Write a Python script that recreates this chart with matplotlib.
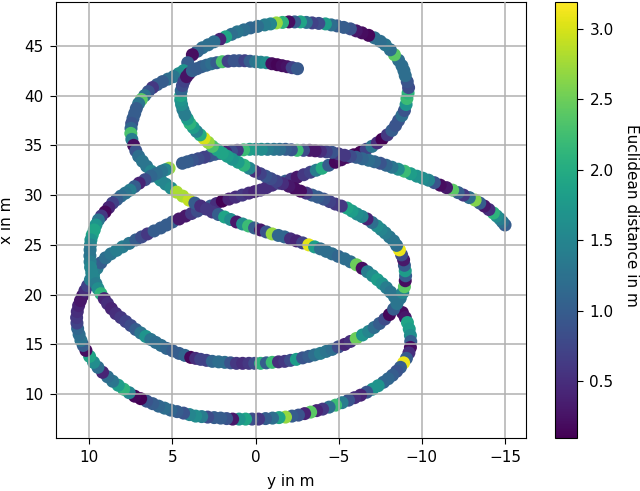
import matplotlib
matplotlib.use("Agg")
import matplotlib.pyplot as plt

plt.rcParams["font.size"] = 11

# closed figure-eight trace
loop_y = [-8.83,-9.0,-9.13,-9.24,-9.31,-9.33,-9.31,-9.22,-9.07,-8.9,
          -8.71,-8.48,-8.23,-7.97,-7.69,-7.37,-7.03,-6.68,-6.31,-5.95,
          -5.59,-5.2,-4.81,-4.42,-4.03,-3.67,-3.31,-2.95,-2.58,-2.19,
          -1.8,-1.41,-1.02,-.6,-.18,.21,.6,.99,1.38,1.74,
          2.1,2.49,2.88,3.24,3.6,3.97,4.33,4.72,5.1,5.47,
          5.83,6.19,6.55,6.91,7.27,7.6,7.93,8.26,8.59,8.9,
          9.2,9.48,9.74,9.98,10.2,10.36,10.5,10.61,10.7,10.74,
          10.76,10.72,10.64,10.53,10.4,10.26,10.1,9.93,9.74,9.53,
          9.3,9.02,8.7,8.36,8.0,7.6,7.2,6.85,6.5,6.1,
          5.7,5.35,5.0,4.6,4.2,3.85,3.5,3.1,2.7,2.35,
          2.0,1.6,1.2,.8,.4,.05,-.3,-.65,-1.0,-1.4,
          -1.8,-2.15,-2.5,-2.9,-3.3,-3.65,-4.0,-4.4,-4.8,-5.15,
          -5.5,-5.9,-6.3,-6.65,-7.0,-7.32,-7.6,-7.92,-8.2,-8.42,
          -8.6,-8.8,-8.95,-9.05,-9.1,-9.17,-9.2,-9.12,-9.0,-8.92,
          -8.8,-8.6,-8.35,-8.1,-7.8,-7.5,-7.15,-6.8,-6.4,-6.05,
          -5.7,-5.3,-4.9,-4.55,-4.2,-3.8,-3.4,-3.05,-2.7,-2.35,
          -2.0,-1.62,-1.25,-.9,-.55,-.12,.3,.7,1.1,1.45,
          1.8,2.15,2.5,2.85,3.2,3.5,3.8,4.08,4.33,4.62,
          4.93,5.27,5.6,5.92,6.2,6.45,6.67,6.87,7.03,7.17,
          7.27,7.37,7.45,7.49,7.5,7.44,7.33,7.2,7.03,6.8,
          6.55,6.28,6.0,5.7,5.4,5.08,4.75,4.38,4.0,3.65,
          3.3,2.95,2.6,2.23,1.86,1.5,1.14,.78,.42,.06,
          -.3,-.65,-1.0,-1.37,-1.74,-2.1,-2.46,-2.83,-3.2,-3.55,
          -3.9,-4.25,-4.6,-4.97,-5.35,-5.71,-6.07,-6.41,-6.73,-7.04,
          -7.33,-7.61,-7.87,-8.12,-8.35]
loop_x = [18.2,17.7,17.2,16.55,15.9,15.3,14.7,14.15,13.6,13.15,
          12.7,12.3,11.9,11.55,11.2,10.85,10.5,10.2,9.9,9.65,
          9.4,9.15,8.9,8.7,8.5,8.35,8.2,8.05,7.9,7.8,
          7.7,7.65,7.6,7.55,7.5,7.5,7.5,7.5,7.5,7.55,
          7.6,7.65,7.7,7.75,7.8,7.95,8.1,8.25,8.4,8.6,
          8.8,9.05,9.3,9.55,9.8,10.15,10.5,10.9,11.3,11.75,
          12.2,12.7,13.2,13.8,14.4,14.9,15.4,16.0,16.6,17.15,
          17.7,18.3,18.9,19.4,19.9,20.4,20.9,21.5,22.1,22.65,
          23.2,23.7,24.1,24.45,24.8,25.15,25.5,25.8,26.1,26.4,
          26.7,27.0,27.3,27.6,27.9,28.15,28.4,28.65,28.9,29.15,
          29.4,29.6,29.8,30.0,30.2,30.35,30.5,30.75,31.0,31.2,
          31.4,31.6,31.8,32.05,32.3,32.5,32.7,33.0,33.3,33.55,
          33.8,34.05,34.3,34.6,34.9,35.25,35.6,36.05,36.5,37.0,
          37.5,38.0,38.5,39.1,39.7,40.25,40.8,41.4,42.0,42.5,
          43.0,43.55,44.1,44.6,45.1,45.45,45.8,46.05,46.3,46.5,
          46.7,46.85,47.0,47.1,47.2,47.25,47.3,47.35,47.4,47.4,
          47.4,47.35,47.3,47.2,47.1,46.95,46.8,46.6,46.4,46.15,
          45.9,45.65,45.4,45.1,44.8,44.45,44.1,43.3,42.5,42.2,
          41.9,41.65,41.4,41.1,40.8,40.4,40.0,39.6,39.2,38.7,
          38.2,37.7,37.2,36.7,36.2,35.6,35.0,34.45,33.9,33.4,
          32.9,32.4,31.9,31.5,31.1,30.7,30.3,29.9,29.5,29.2,
          28.9,28.6,28.3,28.05,27.8,27.55,27.3,27.1,26.9,26.7,
          26.5,26.3,26.1,25.95,25.8,25.6,25.4,25.2,25.0,24.8,
          24.6,24.35,24.1,23.85,23.6,23.3,23.0,22.65,22.3,21.9,
          21.5,21.1,20.7,20.25,19.8]
loop_d = [.2,.3,1.9,1.8,1.6,1.0,.2,.5,1.0,3.1,
          1.0,.9,1.0,1.1,1.1,1.7,1.7,.9,.4,.5,
          .9,1.4,2.2,1.2,.6,.4,2.4,.4,.9,1.0,
          2.7,1.9,1.2,1.0,.6,.8,1.9,1.7,.3,.9,
          1.0,1.0,.8,1.4,1.6,1.5,.9,1.0,1.1,1.2,
          1.1,1.0,.9,.1,.15,1.5,2.1,1.8,1.3,1.2,
          .4,1.2,1.6,1.9,.2,1.0,1.3,1.2,1.1,.7,
          .6,.5,.4,.3,.3,.5,.7,1.4,1.6,1.4,
          1.0,1.2,1.3,1.4,1.4,1.3,1.0,.8,.6,1.0,
          1.0,1.0,1.0,.3,.3,.6,.8,.9,1.0,.5,
          .1,.4,.5,.6,.5,.4,.5,.5,.5,.7,
          1.0,.6,.3,.6,.7,1.4,2.0,1.0,.15,.2,
          .2,.15,.1,.7,1.3,.5,.1,.6,1.0,.9,
          .9,1.2,.9,1.7,2.2,2.1,.8,.9,1.2,1.2,
          1.2,1.2,2.4,1.2,1.3,1.2,1.2,.15,.2,.3,
          .9,1.0,1.0,1.2,1.8,.8,.7,1.2,1.9,1.0,
          .2,2.1,2.7,1.5,1.4,1.2,1.1,1.2,1.3,1.2,
          1.9,.4,1.2,1.2,1.2,1.1,.2,1.0,1.7,1.6,
          1.3,1.2,1.0,1.0,.6,.9,1.2,2.4,1.3,1.0,
          1.0,1.0,.9,1.1,2.3,1.4,.2,.9,1.2,1.3,
          1.3,1.5,1.7,1.6,1.5,1.6,2.8,2.8,2.9,1.0,
          .5,.6,.6,1.0,1.9,1.6,.3,1.6,2.2,1.0,
          .3,.9,2.7,1.1,1.1,.5,.4,.7,3.05,1.8,
          1.2,1.2,1.2,1.1,1.2,1.2,2.5,.2,1.4,1.6,
          1.8,1.7,1.4,1.3,1.3]

# spiral trace, from the inner point out to the right-hand end
spiral_y = [-2.52,-2.2,-1.9,-1.6,-1.3,-.98,-.65,-.32,0,.33,
            .65,.98,1.3,1.65,2.0,2.33,2.65,2.95,3.25,3.53,
            3.8,4.0,4.15,4.3,4.4,4.47,4.5,4.5,4.45,4.37,
            4.25,4.1,3.95,3.75,3.55,3.33,3.1,2.85,2.6,2.3,
            2.0,1.7,1.4,1.05,.7,.38,.05,-.28,-.6,-.92,
            -1.25,-1.62,-2.0,-2.35,-2.7,-3.05,-3.4,-3.75,-4.1,-4.45,
            -4.8,-5.15,-5.5,-5.8,-6.1,-6.4,-6.7,-7.0,-7.3,-7.55,
            -7.8,-8.05,-8.3,-8.48,-8.65,-8.78,-8.9,-8.95,-9.0,-9.02,
            -9.0,-8.95,-8.85,-8.7,-8.5,-8.3,-8.05,-7.77,-7.45,-7.13,
            -6.8,-6.43,-6.05,-5.7,-5.35,-4.98,-4.6,-4.25,-3.9,-3.55,
            -3.2,-2.83,-2.45,-2.1,-1.75,-1.38,-1,-.65,-.3,.05,
            .4,.78,1.15,1.5,1.85,2.22,2.6,2.95,3.3,3.6,
            3.9,4.25,4.6,4.98,5.35,5.68,6.0,6.3,6.6,6.9,
            7.2,7.5,7.8,8.1,8.4,8.67,8.9,9.1,9.3,9.47,
            9.6,9.74,9.85,9.92,9.95,9.96,9.95,9.93,9.9,9.82,
            9.7,9.6,9.45,9.27,9.05,8.83,8.6,8.35,8.1,7.83,
            7.55,7.28,7,6.65,6.3,5.97,5.65,5.42,5.2,4.4,
            4.1,3.8,3.45,3.1,2.78,2.45,2.13,1.8,1.45,1.1,
            .72,.35,0,-.35,-.72,-1.1,-1.45,-1.8,-2.15,-2.5,
            -2.88,-3.25,-3.58,-3.9,-4.25,-4.6,-4.98,-5.35,-5.7,-6.05,
            -6.42,-6.8,-7.15,-7.5,-7.85,-8.2,-8.58,-8.95,-9.32,-9.7,
            -10.05,-10.4,-10.75,-11.1,-11.48,-11.85,-12.18,-12.5,-12.85,-13.2,
            -13.48,-13.75,-14.03,-14.3,-14.5,-14.7,-14.85,-15]
spiral_x = [42.7,42.8,42.9,43.0,43.1,43.2,43.3,43.35,43.4,43.45,
            43.5,43.5,43.5,43.45,43.4,43.3,43.2,43.05,42.9,42.7,
            42.5,42.2,41.9,41.45,41.0,40.5,40.0,39.55,39.1,38.6,
            38.1,37.65,37.2,36.8,36.4,36.05,35.7,35.3,34.9,34.55,
            34.2,33.9,33.6,33.3,33.0,32.7,32.4,32.15,31.9,31.65,
            31.4,31.15,30.9,30.65,30.4,30.2,30.0,29.8,29.6,29.35,
            29.1,28.9,28.7,28.4,28.1,27.85,27.6,27.25,26.9,26.55,
            26.2,25.8,25.4,24.95,24.5,24.0,23.5,22.95,22.4,21.9,
            21.4,20.8,20.2,19.65,19.1,18.55,18.0,17.55,17.1,16.7,
            16.3,15.95,15.6,15.3,15.0,14.75,14.5,14.3,14.1,13.95,
            13.8,13.65,13.5,13.4,13.3,13.25,13.2,13.15,13.1,13.1,
            13.1,13.1,13.1,13.15,13.2,13.25,13.3,13.4,13.5,13.6,
            13.7,13.9,14.1,14.35,14.6,14.9,15.2,15.5,15.8,16.15,
            16.5,16.9,17.3,17.7,18.1,18.6,19.1,19.6,20.1,20.6,
            21.1,21.65,22.2,22.75,23.3,23.9,24.5,25.0,25.5,26.0,
            26.5,27.0,27.5,27.9,28.3,28.75,29.2,29.55,29.9,30.2,
            30.5,30.85,31.2,31.55,31.9,32.15,32.4,32.55,32.7,33.2,
            33.35,33.5,33.65,33.8,33.95,34.1,34.2,34.3,34.4,34.5,
            34.55,34.6,34.6,34.6,34.6,34.6,34.6,34.6,34.55,34.5,
            34.5,34.5,34.45,34.4,34.35,34.3,34.15,34.0,33.9,33.8,
            33.65,33.5,33.35,33.2,33.0,32.8,32.6,32.4,32.15,31.9,
            31.7,31.5,31.25,31.0,30.75,30.5,30.25,30.0,29.75,29.5,
            29.2,28.9,28.55,28.2,27.9,27.6,27.3,27.0]
spiral_d = [.95,.7,.25,.2,.12,.2,1.6,1.5,1.3,1.0,
            .7,.9,.9,.7,2.3,1.0,1.2,1.1,1.0,1.0,
            1.05,.25,.25,.7,.8,1.1,1.9,1.7,1.6,1.4,
            1.4,1.8,2.1,1.8,1.5,2.0,3.0,2.7,2.3,1.9,
            1.9,1.8,1.7,1.8,2.1,1.5,.5,.7,.9,.8,
            .7,.5,.3,.2,.2,.6,1.0,1.0,.9,.7,
            .6,.6,1.9,1.8,1.6,1.5,.4,1.2,1.6,1.5,
            1.4,1.3,1.3,1.2,3.1,.8,.3,1.0,1.8,1.0,
            .2,2.4,1.5,1.3,1.3,1.0,.15,.8,1.0,1.2,
            1.5,1.7,2.5,.5,.4,.8,1.2,1.3,1.4,1.2,
            1.0,.9,1.8,.8,.6,.5,2.2,1.0,2.1,.8,
            .6,.5,.6,.9,1.2,1.2,1.1,.7,.7,.5,
            .15,1.1,1.0,1.0,1.1,1.2,1.2,1.3,1.7,1.3,
            1.0,.8,.7,.6,.5,.4,.5,.4,2.1,1.6,
            1.4,1.5,1.5,1.5,1.4,1.3,1.3,1.5,1.7,1.9,
            1.9,1.7,1.3,.6,.15,.4,.7,1.0,1.2,1.3,
            1.4,1.0,.4,.8,1.1,1.2,1.3,1.5,2.7,1.0,
            1.0,.9,.8,.7,.9,1.0,.6,.4,.8,.6,
            2.2,1.8,1.6,1.6,1.4,1.3,1.2,1.0,.9,2.2,
            .8,.3,.3,.5,.7,.9,.6,.6,.8,1.0,
            1.1,1.2,1.1,.9,1.1,1.3,1.6,2.2,1.8,1.7,
            1.6,1.5,.9,.2,.3,2.4,1.0,.6,1.2,2.6,
            1.0,.3,.5,2.1,1.6,1.4,1.2,1.0]

ticks_x = [10, 5, 0, -5, -10, -15]
ticks_y = [10, 15, 20, 25, 30, 35, 40, 45]
ticks_c = [0.5, 1.0, 1.5, 2.0, 2.5, 3.0]

assert len(loop_y) == len(loop_x) == len(loop_d)
assert len(spiral_y) == len(spiral_x) == len(spiral_d)

W, H = 640, 491
fig = plt.figure(figsize=(W / 100, H / 100), dpi=100)
ax = fig.add_axes([56 / W, 1 - 438 / H, 470 / W, 436 / H])
cax = fig.add_axes([555 / W, 1 - 438 / H, 22 / W, 436 / H])

style = dict(cmap="viridis", vmin=0.095, vmax=3.19, s=88, linewidths=0, zorder=1.5)
ax.scatter(loop_y, loop_x, c=loop_d, **style)
sc = ax.scatter(spiral_y[::-1], spiral_x[::-1], c=spiral_d[::-1], **style)

ax.set_xlim(12.0, -16.26)
ax.set_ylim(5.6, 49.4)
ax.set_xticks(ticks_x)
ax.set_yticks(ticks_y)
ax.tick_params(length=4.5, pad=4.5)
ax.grid(True, color="#b0b0b0", linewidth=1.1, zorder=2)
ax.set_axisbelow(False)
ax.set_xlabel("y in m", labelpad=6)
ax.set_ylabel("x in m", labelpad=7)

cb = fig.colorbar(sc, cax=cax)
cb.set_ticks(ticks_c)
cb.ax.tick_params(length=4.5, pad=4.5)
cb.set_label("Euclidean distance in m", rotation=270, labelpad=18)
cb.ax.yaxis.label.set_y(0.51)

fig.savefig("out.png", dpi=100)
